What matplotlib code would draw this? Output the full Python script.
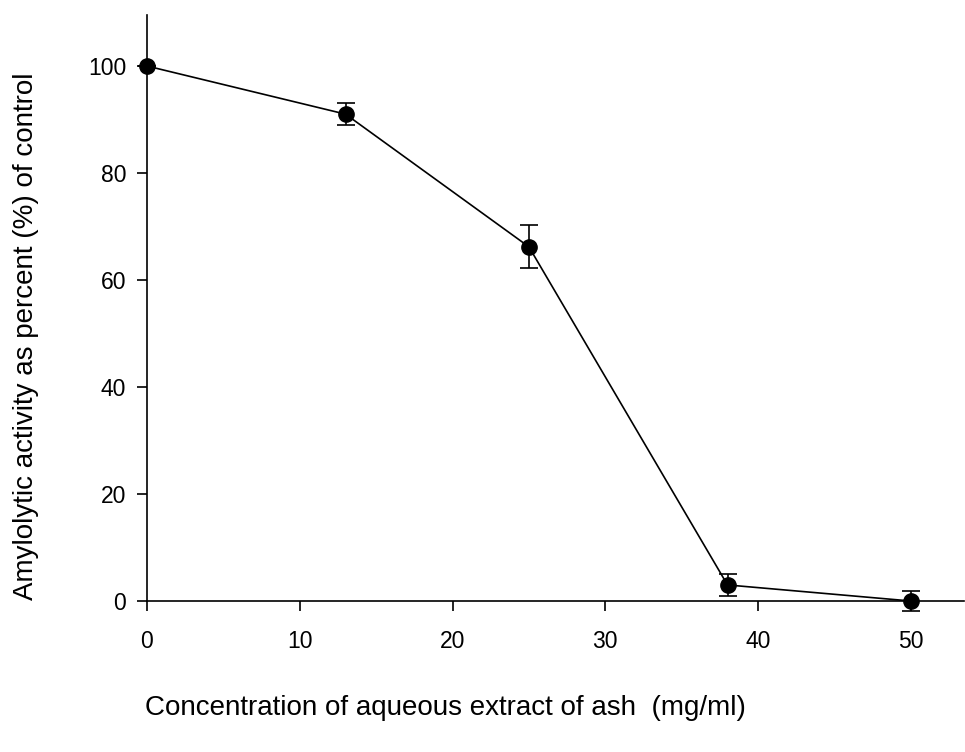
import matplotlib.pyplot as plt

plt.rcParams['font.family'] = ['Liberation Sans', 'DejaVu Sans']

conc = [0, 13, 25, 38, 50]
activity = [100, 91, 66.2, 3, 0]
err = [0, 2, 4, 2, 1.8]

fig = plt.figure(figsize=(9.65, 7.52), dpi=100)
ax = fig.add_axes([0.1523, 0.2008, 0.847, 0.779])

ax.errorbar(conc, activity, yerr=err, color='black', lw=1.2, marker='o',
            markersize=11, capsize=6.5, capthick=1.2, elinewidth=1.2, clip_on=False, zorder=3)

ax.set_xlim(0, 53.5)
ax.set_ylim(0, 109.5)
ax.set_xticks([0, 10, 20, 30, 40, 50])
ax.set_yticks([0, 20, 40, 60, 80, 100])
ax.spines['top'].set_visible(False)
ax.spines['right'].set_visible(False)
ax.spines['left'].set_linewidth(1.2)
ax.spines['bottom'].set_linewidth(1.2)
ax.tick_params(direction='out', length=7, width=1.2, labelsize=16.5)
ax.tick_params(axis='x', pad=14)
ax.tick_params(axis='y', pad=8)

fig.text(0.027, 0.553, "Amylolytic activity as percent (%) of control", fontsize=20,
         rotation=90, ha='center', va='center')
fig.text(0.462, 0.059, "Concentration of aqueous extract of ash  (mg/ml)", fontsize=20,
         ha='center', va='center')

fig.savefig('out.png', dpi=100)
